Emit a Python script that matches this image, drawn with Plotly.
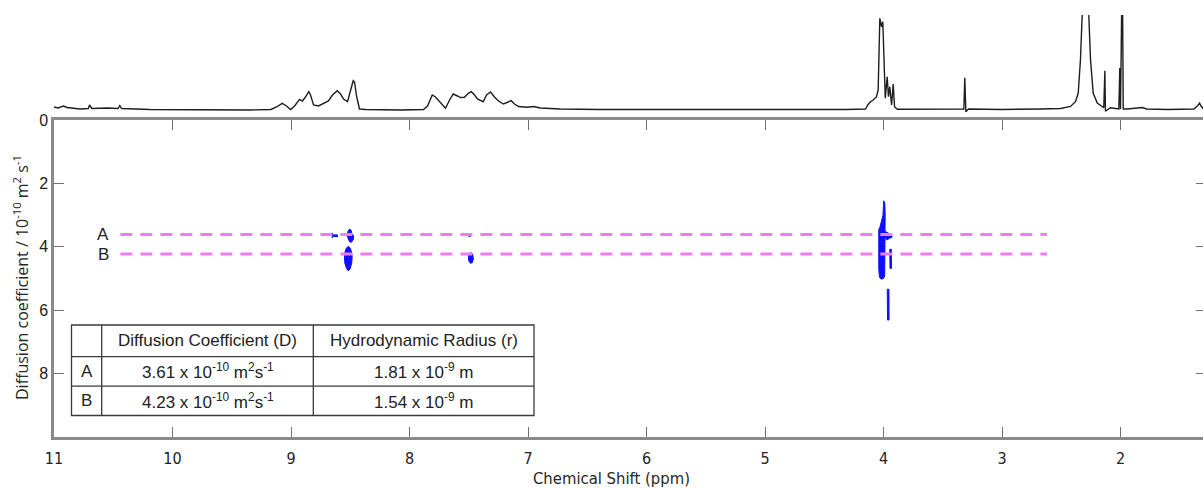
import plotly.graph_objects as go

# ---------------- 1H spectrum (projection on top) ----------------
spec_ppm = [11.00, 10.966, 10.92, 10.89, 10.78, 10.71, 10.70, 10.68, 10.55, 10.46, 10.445, 10.43,
            10.19, 9.77, 9.35, 9.17,
            9.122, 9.074, 9.038, 9.004, 8.970, 8.928, 8.903, 8.878, 8.850, 8.835, 8.810, 8.768,
            8.734, 8.684, 8.650, 8.610, 8.582, 8.557, 8.523, 8.498, 8.475, 8.464, 8.447, 8.422,
            8.371, 8.076, 7.882,
            7.848, 7.808, 7.781, 7.738, 7.696, 7.662, 7.631, 7.595, 7.570, 7.536, 7.502, 7.479,
            7.451, 7.426, 7.401, 7.378, 7.350, 7.316, 7.283, 7.249, 7.207, 7.173, 7.142, 7.114,
            7.080, 7.007, 6.954, 6.895, 6.726, 6.40, 6.00, 5.57, 5.15, 4.73, 4.31,
            4.152, 4.133, 4.110, 4.087, 4.059, 4.045, 4.031, 4.017, 4.006, 3.997, 3.985, 3.969,
            3.958, 3.947, 3.932, 3.918, 3.907, 3.884,
            3.60, 3.336, 3.322, 3.314, 3.305, 3.283,
            3.00, 2.675, 2.506, 2.422, 2.380, 2.357, 2.338, 2.324, 2.318, 2.295, 2.272, 2.267,
            2.253, 2.230, 2.196, 2.154, 2.141, 2.132, 2.127, 2.085, 2.014, 2.006, 2.000, 1.985,
            1.977, 1.943, 1.817, 1.780, 1.60, 1.381, 1.353, 1.333, 1.319, 1.300]
spec_int = [2.0, 1.0, 3.0, 1.5, 0.0, 0.5, 4.0, 0.5, 1.0, 0.5, 3.5, 0.5,
            -0.5, -1.0, -1.0, -0.5,
            2.0, 5.7, 3.0, -0.5, 3.0, 9.7, 8.0, 12.0, 17.3, 14.0, 4.0, 3.0,
            5.0, 8.0, 14.0, 18.3, 15.0, 10.0, 7.3, 17.0, 28.3, 27.0, 13.0, 0.0,
            -0.5, -1.0, -0.5,
            3.0, 14.0, 12.0, 6.0, 0.7, 9.0, 15.0, 13.0, 11.5, 11.7, 16.0, 17.3,
            14.0, 10.0, 9.0, 7.3, 14.0, 17.0, 12.0, 8.0, 5.0, 7.0, 8.3, 5.0,
            2.5, 1.7, 2.5, 1.0, 0.0, -0.5, -0.5, -0.5, -1.0, -0.5, -0.5,
            0.0, 4.0, 7.3, 9.0, 12.3, 19.0, 90.7, 82.3, 87.3, 59.0, 10.7, 32.3,
            12.3, 22.3, 4.0, 25.0, 2.3, -0.3,
            -0.5, 0.0, 0.0, 31.3, -2.7, 0.0,
            -0.5, 0.0, 0.5, 2.6, 7.3, 15.7, 49.0, 92.0, 130.0, 160.0, 130.0, 92.0,
            49.0, 15.7, 6.0, 2.6, 1.3, 38.3, -2.3, 1.3, 0.0, 41.0, 0.0, 150.0,
            0.0, 0.0, 1.5, 0.0, -0.5, 0.0, 2.7, 6.0, 2.7, 0.0]

# ---------------- DOSY cross peaks (contour outlines) ----------------
peak_853_ppm = [8.516, 8.534, 8.546, 8.549, 8.545, 8.532, 8.516, 8.500, 8.488, 8.484, 8.489, 8.501]
peak_853_D = [3.98, 4.05, 4.18, 4.34, 4.52, 4.68, 4.76, 4.68, 4.52, 4.34, 4.16, 4.04]

peak_850_ppm = [8.505, 8.518, 8.524, 8.522, 8.506, 8.490, 8.473, 8.472, 8.486, 8.492]
peak_850_D = [3.44, 3.50, 3.60, 3.70, 3.84, 3.86, 3.76, 3.64, 3.60, 3.48]

peak_865_ppm = [8.652, 8.646, 8.610, 8.606, 8.646, 8.652]
peak_865_D = [3.56, 3.63, 3.62, 3.68, 3.67, 3.72]

peak_750_ppm = [7.485, 7.497, 7.503, 7.500, 7.486, 7.470, 7.461, 7.465, 7.474]
peak_750_D = [4.18, 4.22, 4.32, 4.44, 4.52, 4.50, 4.38, 4.26, 4.20]

peak_749_ppm = [7.500, 7.487, 7.487, 7.500]
peak_749_D = [3.60, 3.60, 3.67, 3.67]

peak_403_ppm = [3.998, 3.989, 3.986, 3.986, 3.990, 4.000, 4.018, 4.034, 4.040, 4.040, 4.030, 4.018, 4.004, 4.002]
peak_403_D = [2.55, 2.62, 3.00, 4.20, 4.92, 5.00, 5.02, 4.96, 4.70, 3.45, 3.38, 3.20, 3.00, 2.80]

peak_396_ppm = [3.984, 3.960, 3.932, 3.928, 3.955, 3.968, 3.984]
peak_396_D = [3.52, 3.56, 3.62, 3.70, 3.74, 3.79, 3.72]

peak_394_ppm = [3.947, 3.934, 3.932, 3.945]
peak_394_D = [4.08, 4.08, 4.68, 4.68]

peak_396b_ppm = [3.968, 3.954, 3.953, 3.966]
peak_396b_D = [5.34, 5.34, 6.31, 6.31]

contours = [(peak_853_ppm, peak_853_D), (peak_850_ppm, peak_850_D), (peak_865_ppm, peak_865_D),
            (peak_750_ppm, peak_750_D), (peak_749_ppm, peak_749_D), (peak_403_ppm, peak_403_D),
            (peak_396_ppm, peak_396_D), (peak_394_ppm, peak_394_D), (peak_396b_ppm, peak_396b_D)]

# ---------------- species summary ----------------
species = ["A", "B"]
diff_coeff = [3.61, 4.23]         # 10^-10 m^2 s^-1
hydro_radius = [1.81, 1.54]       # 10^-9 m
line_ppm_span = [10.44, 2.62]

x_ticks = [11, 10, 9, 8, 7, 6, 5, 4, 3, 2]
y_ticks = [0, 2, 4, 6, 8]

# ---------------- figure geometry ----------------
W, H = 1203, 489
ML, MR, MT, MB = 54, 0, 15, 52
PW, PH = W - ML - MR, H - MT - MB
MAIN_TOP_PX = 120
SPEC_BOTTOM_PX = 118


def px_x(p):
    return (p - ML) / PW


def px_y(p):
    return (H - MB - p) / PH


fig = go.Figure()

fig.add_trace(go.Scatter(x=spec_ppm, y=spec_int, mode="lines", xaxis="x2", yaxis="y2",
                         line=dict(color="#1e1e1e", width=1.4), hoverinfo="skip"))

for pp, dd in contours:
    fig.add_trace(go.Scatter(x=pp + [pp[0]], y=dd + [dd[0]], mode="lines", fill="toself",
                             fillcolor="rgb(15,15,255)", line=dict(color="rgb(15,15,255)", width=1),
                             hoverinfo="skip"))

for d in diff_coeff:
    fig.add_trace(go.Scatter(x=line_ppm_span, y=[d, d], mode="lines",
                             line=dict(color="#f07df0", width=3, dash="12px,8px"),
                             hoverinfo="skip"))

annotations = []
for lab, d in zip(species, diff_coeff):
    annotations.append(dict(x=10.52, y=d, xref="x", yref="y", text=lab, showarrow=False,
                            xanchor="right", yanchor="middle",
                            font=dict(family="Liberation Sans, Arial", size=17, color="#222")))

# summary table drawn with shapes and text
tbl_left, tbl_right, tbl_top, tbl_bottom = 71.5, 534, 325, 415.5
col_lines = [101.7, 313.3]
row_lines = [356.7, 386.2]
shapes = [dict(type="rect", xref="paper", yref="paper",
               x0=px_x(tbl_left), x1=px_x(tbl_right), y0=px_y(tbl_bottom), y1=px_y(tbl_top),
               line=dict(color="#3a3a3a", width=1.3), fillcolor="white", layer="above")]
for c in col_lines:
    shapes.append(dict(type="line", xref="paper", yref="paper", x0=px_x(c), x1=px_x(c),
                       y0=px_y(tbl_bottom), y1=px_y(tbl_top), line=dict(color="#3a3a3a", width=1.3)))
for r in row_lines:
    shapes.append(dict(type="line", xref="paper", yref="paper", x0=px_x(tbl_left), x1=px_x(tbl_right),
                       y0=px_y(r), y1=px_y(r), line=dict(color="#3a3a3a", width=1.3)))

col_centers = [(tbl_left + col_lines[0]) / 2, (col_lines[0] + col_lines[1]) / 2,
               (col_lines[1] + tbl_right) / 2]
row_centers = [(tbl_top + row_lines[0]) / 2, (row_lines[0] + row_lines[1]) / 2,
               (row_lines[1] + tbl_bottom) / 2]
tfont = dict(family="Liberation Sans, Arial", size=17, color="#222")
header = ["", "Diffusion Coefficient (D)", "Hydrodynamic Radius (r)"]
rows = [header]
for lab, d, r in zip(species, diff_coeff, hydro_radius):
    rows.append([lab,
                 f"{d:.2f} x 10<sup>-10</sup> m<sup>2</sup>s<sup>-1</sup>",
                 f"{r:.2f} x 10<sup>-9</sup> m"])
for ri, row in enumerate(rows):
    for ci, txt in enumerate(row):
        if txt:
            annotations.append(dict(x=px_x(col_centers[ci]), y=px_y(row_centers[ri]),
                                    xref="paper", yref="paper", text=txt, showarrow=False,
                                    xanchor="center", yanchor="middle", font=tfont))

annotations.append(dict(x=px_x(21), y=px_y(278), xref="paper", yref="paper", textangle=-90,
                        text="Diffusion coefficient / 10<sup>-10</sup> m<sup>2</sup> s<sup>-1</sup>",
                        showarrow=False, xanchor="center", yanchor="middle",
                        font=dict(family="Open Sans", size=16, color="#262626")))
annotations.append(dict(x=px_x(611), y=px_y(478), xref="paper", yref="paper",
                        text="Chemical Shift (ppm)", showarrow=False,
                        xanchor="center", yanchor="middle",
                        font=dict(family="Liberation Sans Narrow, DejaVu Sans Condensed", size=16.5, color="#262626")))

x_range = [11, 11 - PW / 118.5]
main_top = px_y(MAIN_TOP_PX)

fig.update_layout(
    width=W, height=H, margin=dict(l=ML, r=MR, t=MT, b=MB),
    paper_bgcolor="white", plot_bgcolor="white", showlegend=False,
    xaxis=dict(range=x_range, domain=[0, 1], anchor="y", tickvals=x_ticks,
               ticktext=[str(v) for v in x_ticks], ticks="inside", ticklen=10, tickwidth=1.3,
               tickcolor="#707070", showline=True, linecolor="#8a8a8a", linewidth=2.5,
               mirror="ticks", showgrid=False, zeroline=False, ticklabelstandoff=5,
               tickfont=dict(family="Liberation Sans Narrow, DejaVu Sans Condensed", size=16, color="#222")),
    yaxis=dict(range=[10, 0], domain=[0, main_top], anchor="x", tickvals=y_ticks,
               ticks="inside", ticklen=10, tickwidth=1.3, tickcolor="#707070",
               showline=True, linecolor="#8a8a8a", linewidth=2.5, showgrid=False,
               zeroline=False, tickfont=dict(family="Liberation Sans, Arial", size=16, color="#222")),
    yaxis3=dict(range=[10, 0], overlaying="y", side="right", anchor="x", tickvals=y_ticks,
                ticks="inside", ticklen=7, tickwidth=1.3, tickcolor="#707070",
                showticklabels=False, showline=False, showgrid=False, zeroline=False),
    xaxis2=dict(matches="x", anchor="y2", domain=[0, 1], visible=False),
    yaxis2=dict(range=[-9, 94], domain=[px_y(SPEC_BOTTOM_PX), 1], anchor="x2", visible=False),
    shapes=shapes, annotations=annotations,
)

# empty trace so the right-hand tick axis is rendered
fig.add_trace(go.Scatter(x=[None], y=[None], xaxis="x", yaxis="y3", hoverinfo="skip"))

fig.write_html("out.html")
